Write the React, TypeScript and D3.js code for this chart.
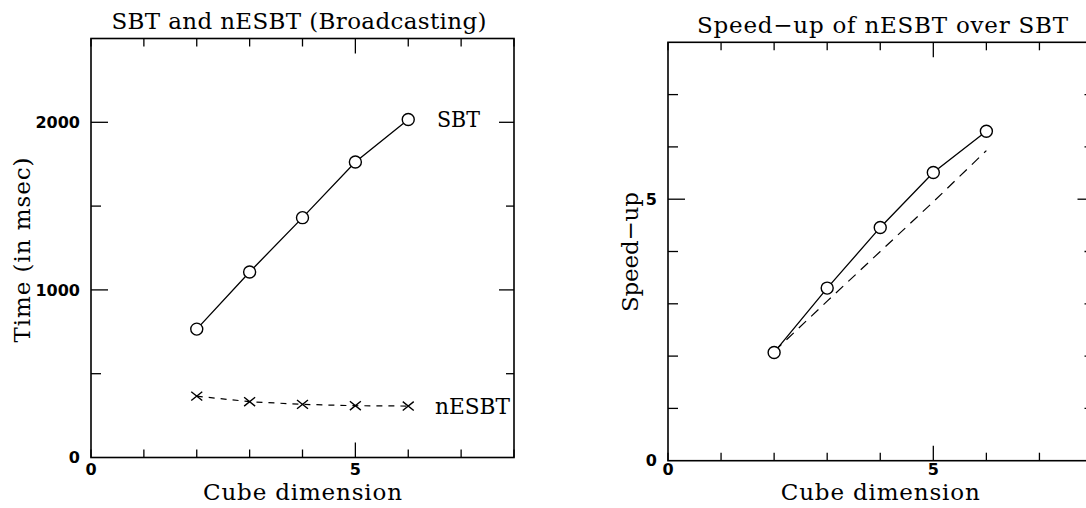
import React from "react";
import * as d3 from "d3";

// ---- data ----
const cubeDims = [2, 3, 4, 5, 6];
const sbtTime = [766, 1107, 1431, 1763, 2017];
const nesbtTime = [366, 333, 317, 309, 307];
const speedup = [2.07, 3.3, 4.46, 5.51, 6.3];
const speedupLinear = [2.09, 3.05, 4.0, 4.95, 5.93];

const xTicks = [0, 1, 2, 3, 4, 5, 6, 7, 8];
const xLabelTicks = [0, 5];
const timeTicks = [500, 1000, 1500, 2000];
const timeLabelTicks = [0, 1000, 2000];
const speedTicks = [1, 2, 3, 4, 5, 6, 7];
const speedLabelTicks = [0, 5];

const SERIF = "'DejaVu Serif', serif";
const SANS = "'DejaVu Sans', sans-serif";
const FS = 23;

type PanelProps = {
  left: number;
  right: number;
  top: number;
  bottom: number;
  yMax: number;
  yTicks: number[];
  yLabelTicks: number[];
  yMajor: (v: number) => boolean;
  children: (x: d3.ScaleLinear<number, number>, y: d3.ScaleLinear<number, number>) => React.ReactNode;
};

function Panel({ left, right, top, bottom, yMax, yTicks, yLabelTicks, yMajor, children }: PanelProps) {
  const x = d3.scaleLinear().domain([0, 8]).range([left, right]);
  const y = d3.scaleLinear().domain([0, yMax]).range([bottom, top]);
  const major = 15;
  const minor = 8;
  return (
    <g>
      <rect x={left} y={top} width={right - left} height={bottom - top} fill="none" stroke="#000" strokeWidth={1.6} />
      {xTicks.map((t) => {
        const len = t === 5 ? major : minor;
        return (
          <g key={"xt" + t}>
            <line x1={x(t)} x2={x(t)} y1={bottom} y2={bottom - len} stroke="#000" strokeWidth={1.3} />
            <line x1={x(t)} x2={x(t)} y1={top} y2={top + len} stroke="#000" strokeWidth={1.3} />
          </g>
        );
      })}
      {yTicks.map((t) => {
        const m = yMajor(t);
        return (
          <g key={"yt" + t}>
            <line x1={left} x2={left + (m ? 17 : 10)} y1={y(t)} y2={y(t)} stroke="#000" strokeWidth={1.3} />
            <line x1={right} x2={right - (m ? major : minor)} y1={y(t)} y2={y(t)} stroke="#000" strokeWidth={1.3} />
          </g>
        );
      })}
      {xLabelTicks.map((t) => (
        <text key={"xl" + t} x={x(t)} y={475} textAnchor="middle" fontFamily={SANS} fontWeight="bold" fontSize={16}>
          {t}
        </text>
      ))}
      {yLabelTicks.map((t) => (
        <text
          key={"yl" + t}
          x={left - 11}
          y={y(t)}
          dy="0.36em"
          textAnchor="end"
          fontFamily={SANS}
          fontWeight="bold"
          fontSize={16}
        >
          {t}
        </text>
      ))}
      <text
        x={(left + right) / 2}
        y={500}
        textAnchor="middle"
        fontFamily={SERIF}
        fontSize={FS}
        textLength={199}
        lengthAdjust="spacing"
      >
        Cube dimension
      </text>
      {children(x, y)}
    </g>
  );
}

function Circles({ xs, ys, x, y }: { xs: number[]; ys: number[]; x: any; y: any }) {
  return (
    <g>
      {xs.map((d, i) => (
        <circle key={i} cx={x(d)} cy={y(ys[i])} r={6} fill="#fff" stroke="#000" strokeWidth={1.4} />
      ))}
    </g>
  );
}

function Crosses({ xs, ys, x, y }: { xs: number[]; ys: number[]; x: any; y: any }) {
  const s = 5.5;
  return (
    <g>
      {xs.map((d, i) => {
        const cx = x(d);
        const cy = y(ys[i]);
        return (
          <path
            key={i}
            d={`M${cx - s},${cy - s * 0.8}L${cx + s},${cy + s * 0.8}M${cx - s},${cy + s * 0.8}L${cx + s},${cy - s * 0.8}`}
            stroke="#000"
            strokeWidth={1.4}
            fill="none"
          />
        );
      })}
    </g>
  );
}

export default function App() {
  const pts = (xs: number[], ys: number[]) => xs.map((d, i) => [d, ys[i]] as [number, number]);
  return (
    <svg width={1086} height={508} style={{ position: "absolute", left: 0, top: 0, background: "#fff" }}>
      <rect x={0} y={0} width={1086} height={508} fill="#fff" />
      {/* Left panel */}
      <text x={299} y={28.5} textAnchor="middle" fontFamily={SERIF} fontSize={FS} textLength={375} lengthAdjust="spacing">
        SBT and nESBT (Broadcasting)
      </text>
      <text
        transform="translate(30,250) rotate(-90)"
        textAnchor="middle"
        fontFamily={SERIF}
        fontSize={FS}
        textLength={185}
        lengthAdjust="spacing"
      >
        Time (in msec)
      </text>
      <Panel
        left={91}
        right={514}
        top={38.5}
        bottom={457.5}
        yMax={2500}
        yTicks={timeTicks}
        yLabelTicks={timeLabelTicks}
        yMajor={(v) => v % 1000 === 0}
      >
        {(x, y) => {
          const line = d3
            .line<[number, number]>()
            .x((d) => x(d[0]))
            .y((d) => y(d[1]));
          return (
            <g>
              <path d={line(pts(cubeDims, sbtTime)) || ""} fill="none" stroke="#000" strokeWidth={1.3} />
              <path
                d={line(pts(cubeDims, nesbtTime)) || ""}
                fill="none"
                stroke="#000"
                strokeWidth={1.2}
                strokeDasharray="6,6"
              />
              <Circles xs={cubeDims} ys={sbtTime} x={x} y={y} />
              <Crosses xs={cubeDims} ys={nesbtTime} x={x} y={y} />
              <text x={437} y={127} fontFamily={SERIF} fontSize={FS} textLength={43} lengthAdjust="spacingAndGlyphs">
                SBT
              </text>
              <text x={435} y={413.5} fontFamily={SERIF} fontSize={FS} textLength={75} lengthAdjust="spacingAndGlyphs">
                nESBT
              </text>
            </g>
          );
        }}
      </Panel>

      {/* Right panel */}
      <text x={882.5} y={33} textAnchor="middle" fontFamily={SERIF} fontSize={FS} textLength={371} lengthAdjust="spacing">
        Speed−up of nESBT over SBT
      </text>
      <text
        transform="translate(638,252) rotate(-90)"
        textAnchor="middle"
        fontFamily={SERIF}
        fontSize={FS}
        textLength={120}
        lengthAdjust="spacing"
      >
        Speed−up
      </text>
      <Panel
        left={668}
        right={1092.5}
        top={42.3}
        bottom={460.7}
        yMax={8}
        yTicks={speedTicks}
        yLabelTicks={speedLabelTicks}
        yMajor={(v) => v % 5 === 0}
      >
        {(x, y) => {
          const line = d3
            .line<[number, number]>()
            .x((d) => x(d[0]))
            .y((d) => y(d[1]));
          return (
            <g>
              <path
                d={line(pts(cubeDims, speedupLinear)) || ""}
                fill="none"
                stroke="#000"
                strokeWidth={1.2}
                strokeDasharray="10,7"
              />
              <path d={line(pts(cubeDims, speedup)) || ""} fill="none" stroke="#000" strokeWidth={1.3} />
              <Circles xs={cubeDims} ys={speedup} x={x} y={y} />
            </g>
          );
        }}
      </Panel>
    </svg>
  );
}
